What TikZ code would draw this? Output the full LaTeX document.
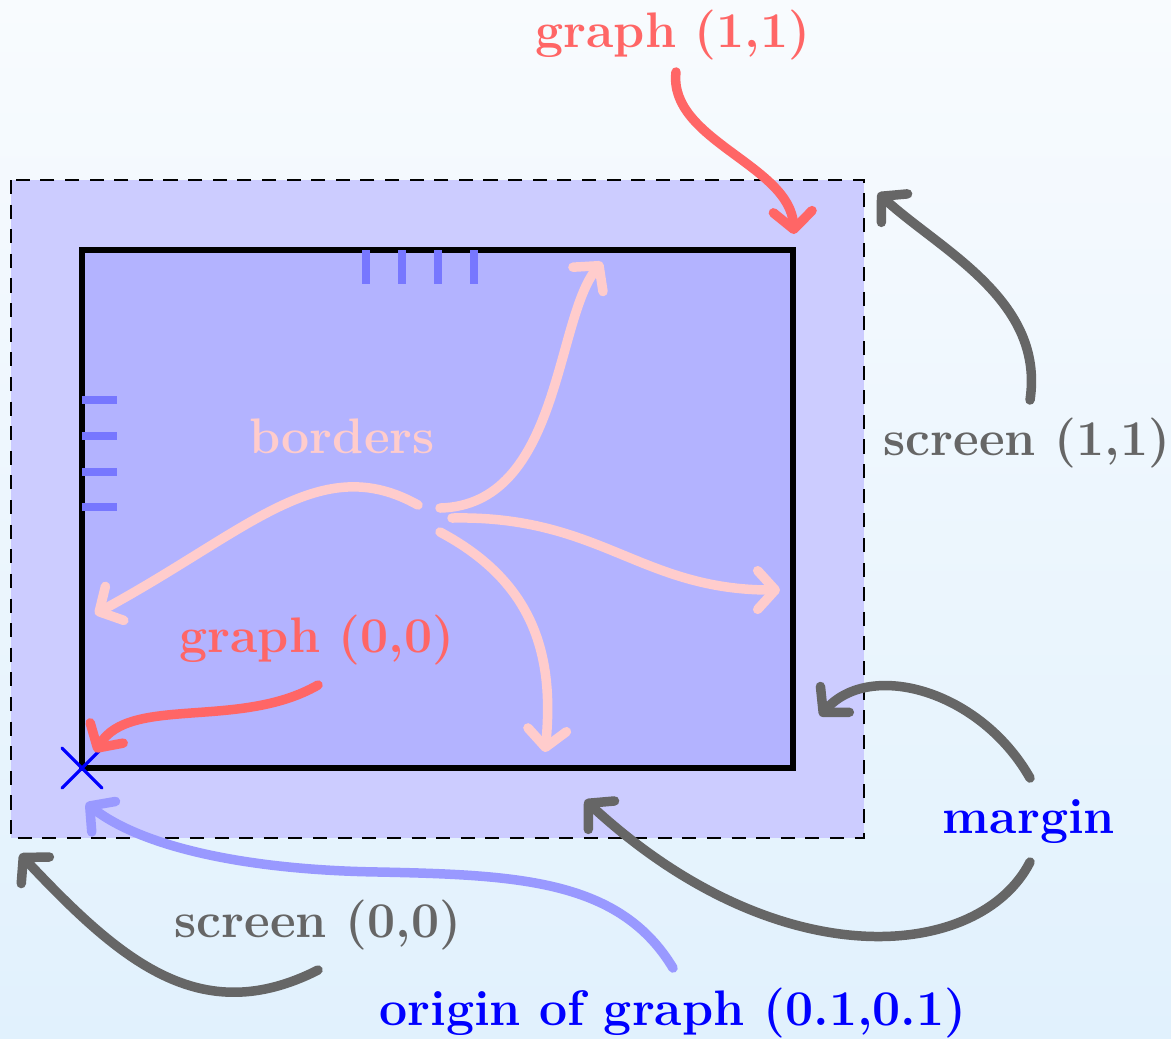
\documentclass[tikz,border=0pt]{standalone}
\usetikzlibrary{arrows.meta}
\definecolor{graphred}{RGB}{255,102,102}
\definecolor{screengray}{RGB}{102,102,102}
\definecolor{borderpink}{RGB}{255,204,204}
\definecolor{originblue}{RGB}{153,153,255}
\definecolor{outerfill}{RGB}{204,204,255}
\definecolor{innerfill}{RGB}{179,179,255}
\definecolor{tickblue}{RGB}{119,119,255}
\tikzset{
  lbl/.style={anchor=base,inner sep=1pt,font=\fontsize{14.2}{17}\selectfont\bfseries},
  pointer/.style={line width=2.7pt,line cap=round,-{Straight Barb[round,length=5pt,width=11pt]}},
  tick/.style={tickblue,line width=2.2pt}
}
\begin{document}
\begin{tikzpicture}[x=0.01cm,y=-0.01cm]
  \shade[top color={rgb,255:red,248;green,251;blue,254},bottom color={rgb,255:red,225;green,241;blue,253}]
    (0,0) rectangle (1171,1038);
  \useasboundingbox (0,0) rectangle (1171,1038);
  % screen and graph areas
  \filldraw[fill=outerfill,draw=black,line width=0.6pt,dash pattern=on 4pt off 3pt] (11,180) rectangle (864,838);
  \filldraw[fill=innerfill,draw=black,line width=1.6pt] (82,250) rectangle (793,768);
  % tics
  \foreach \tx in {366,402,438,474} \draw[tick] (\tx,250) -- (\tx,284);
  \foreach \ty in {400,436,472,507} \draw[tick] (82,\ty) -- (117,\ty);
  % origin mark
  \coordinate (orig) at (82,768);
  \draw[blue,line width=0.9pt,line cap=round] ([shift={(-20,-20)}]orig) -- ([shift={(20,20)}]orig)
    ([shift={(-20,20)}]orig) -- ([shift={(20,-20)}]orig);
  % labels
  \node[lbl,text=graphred] (g11) at (673,47) {graph (1,1)};
  \node[lbl,text=screengray] (s11) at (1027,455) {screen (1,1)};
  \node[lbl,text=borderpink] (brd) at (342,453) {borders};
  \node[lbl,text=graphred] (g00) at (317,652) {graph (0,0)};
  \node[lbl,text=blue] (mrg) at (1029,833) {margin};
  \node[lbl,text=screengray] (s00) at (318,937) {screen (0,0)};
  \node[lbl,text=blue] (org) at (673,1025) {origin of graph (0.1,0.1)};
  % arrow tips
  \coordinate (g11tip) at (794,234);
  \coordinate (s11tip) at (878,193);
  \coordinate (g00tip) at (95,752);
  \coordinate (s00tip) at (20,854);
  \coordinate (mrgtipA) at (820,716);
  \coordinate (mrgtipB) at (585,800);
  \coordinate (orgtip) at (86,803);
  \coordinate (btipL) at (95,614);
  \coordinate (btipU) at (602,262);
  \coordinate (btipR) at (780,590);
  \coordinate (btipD) at (545,752);
  % pointers
  \draw[pointer,graphred] (676,72) .. controls (668,140) and (790,165) .. (g11tip);
  \draw[pointer,screengray] (1030,400) .. controls (1045,300) and (940,250) .. (s11tip);
  \draw[pointer,graphred] (318,685) .. controls (240,730) and (130,695) .. (g00tip);
  \draw[pointer,screengray] (318,970) .. controls (200,1030) and (120,960) .. (s00tip);
  \draw[pointer,screengray] (1030,778) .. controls (980,690) and (870,660) .. (mrgtipA);
  \draw[pointer,screengray] (1030,862) .. controls (980,960) and (780,980) .. (mrgtipB);
  \draw[pointer,originblue] (673,968) .. controls (620,880) and (520,875) .. (380,872)
    .. controls (240,870) and (140,845) .. (orgtip);
  \draw[pointer,borderpink] (418,505) .. controls (320,450) and (250,530) .. (btipL);
  \draw[pointer,borderpink] (440,508) .. controls (560,505) and (555,320) .. (btipU);
  \draw[pointer,borderpink] (452,518) .. controls (600,515) and (640,590) .. (btipR);
  \draw[pointer,borderpink] (440,532) .. controls (530,580) and (555,650) .. (btipD);
\end{tikzpicture}
\end{document}
